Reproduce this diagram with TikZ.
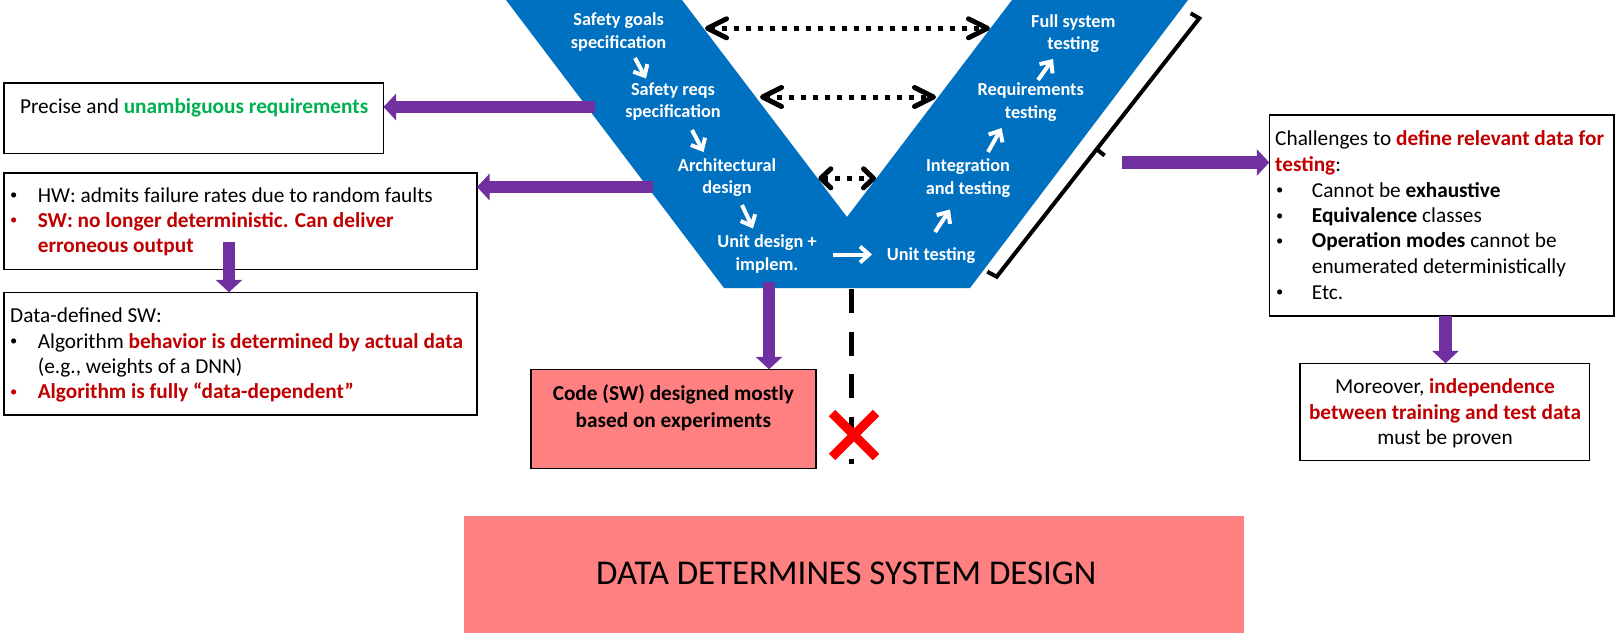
\documentclass[tikz,border=0pt]{standalone}
\usepackage{fontspec}
\setmainfont{Carlito}
\usetikzlibrary{arrows.meta,calc}
\definecolor{vblue}{HTML}{0070C0}
\definecolor{ppurple}{HTML}{7030A0}
\definecolor{okgreen}{HTML}{00B050}
\definecolor{dred}{HTML}{C00000}
\definecolor{pinkfill}{HTML}{FF8080}
\definecolor{xred}{HTML}{FF0000}
\newcommand{\bodyfont}{\fontsize{21.3}{25.6}\selectfont}
\newcommand{\vfont}{\fontsize{18.3}{22.7}\selectfont\bfseries}
\newcommand{\rb}[1]{\textcolor{dred}{\textbf{#1}}}
\newcommand{\bul}{\raisebox{2.6pt}{\fontsize{14.5}{14.5}\selectfont\mdseries •}}
\begin{document}
\begin{tikzpicture}[x=1pt,y=-1pt,
  box/.style={draw=black, line width=1.6pt, inner sep=0pt, outer sep=0pt, anchor=north west},
  ln/.style={anchor=base west, inner sep=0pt, font=\bodyfont},
  lnc/.style={anchor=base, inner sep=0pt, font=\bodyfont},
  vtxt/.style={text=white, font=\vfont, align=center, inner sep=0pt},
  parrow/.style={draw=ppurple, fill=ppurple, line width=12.5pt, -{Triangle[length=12.5pt,width=26pt]}},
  warrow/.style={draw=white, line width=4pt, -{Straight Barb[length=9pt,width=16pt]}},
  dotarrow/.style={line width=5pt, dash pattern=on 5pt off 7pt,
     {Straight Barb[length=19pt,width=19pt,round]}-{Straight Barb[length=19pt,width=19pt,round]}},
  dotarrowshort/.style={line width=5pt, dash pattern=on 5pt off 7pt,
     {Straight Barb[length=10pt,width=19pt,round]}-{Straight Barb[length=10pt,width=19pt,round]}}
]
\useasboundingbox (0,0) rectangle (1619,633);

% V shape
\fill[vblue] (506,0) -- (682,0) -- (847,217) -- (1012,0) -- (1188,0) -- (970,288) -- (724,288) -- cycle;

% boxes
\node[box, minimum width=379.5pt, minimum height=70.6pt] (box1) at (4,82.7) {};
\node[box, minimum width=473pt, minimum height=96.6pt] (box2) at (4,172.7) {};
\node[box, minimum width=473pt, minimum height=122.7pt] (box3) at (4,292.3) {};
\node[box, fill=pinkfill, minimum width=284.7pt, minimum height=99pt] (code) at (531,369.3) {};
\node[box, draw=none, fill=pinkfill, minimum width=780.4pt, minimum height=117pt] (bottom) at (463.6,516) {};
\node[box, minimum width=344.7pt, minimum height=201pt] (r1) at (1269.3,115) {};
\node[box, minimum width=289.3pt, minimum height=97.2pt] (r2) at (1300,363.3) {};

% box texts
\node[ln] (t1) at (19.8,113) {Precise and \textcolor{okgreen}{\textbf{unambiguous requirements}}};

\node[ln] (t2a) at (10,202) {\makebox[27.6pt][l]{\bul}HW: admits failure rates due to random faults};
\node[ln, text=dred, font=\bodyfont\bfseries] (t2b) at (10,227) {\makebox[27.6pt][l]{\bul}SW: no longer deterministic. Can deliver};
\node[ln, text=dred, font=\bodyfont\bfseries] (t2c) at (37.6,252.7) {erroneous output};

\node[ln] (t3a) at (10,322) {Data-defined SW:};
\node[ln] (t3b) at (10,348) {\makebox[27.6pt][l]{\bul}Algorithm \rb{behavior is determined by actual data}};
\node[ln] (t3c) at (37.6,373.7) {(e.g., weights of a DNN)};
\node[ln, text=dred, font=\bodyfont\bfseries] (t3d) at (10,398.7) {\makebox[27.6pt][l]{\bul}Algorithm is fully “data-dependent”};

\node[ln] (r1a) at (1275,145.3) {Challenges to \rb{define relevant data for}};
\node[ln] (r1b) at (1275,171) {\rb{testing}:};
\node[ln] (r1c) at (1276,197) {\makebox[35.7pt][l]{\bul}Cannot be \textbf{exhaustive}};
\node[ln] (r1d) at (1276,222.7) {\makebox[35.7pt][l]{\bul}\textbf{Equivalence} classes};
\node[ln] (r1e) at (1276,247.7) {\makebox[35.7pt][l]{\bul}\textbf{Operation modes} cannot be};
\node[ln] (r1f) at (1311.7,273.7) {enumerated deterministically};
\node[ln] (r1g) at (1276,299.3) {\makebox[35.7pt][l]{\bul}Etc.};

\node[lnc] (r2a) at (1445,393.7) {Moreover, \rb{independence}};
\node[lnc] (r2b) at (1445,419.3) {\rb{between training and test data}};
\node[lnc] (r2c) at (1445,444.7) {must be proven};

\node[lnc, font=\bodyfont\bfseries] (ca) at (673.3,400.3) {Code (SW) designed mostly};
\node[lnc, font=\bodyfont\bfseries] (cb) at (673.3,427) {based on experiments};

\node[anchor=base west, inner sep=0pt, font=\fontsize{34.8}{40}\selectfont] (bt) at (596,584.3) {DATA DETERMINES SYSTEM DESIGN};

% V texts
\node[vtxt] (s1) at (618.6,32) {Safety goals\\specification};
\node[vtxt] (s2) at (673,101.7) {Safety reqs\\specification};
\node[vtxt] (s3) at (727,177.5) {Architectural\\design};
\node[vtxt] (s4) at (767,253.8) {Unit design +\\implem.};
\node[vtxt] (s5) at (931,256) {Unit testing};
\node[vtxt] (s6) at (968,178) {Integration\\and testing};
\node[vtxt] (s7) at (1030.7,102) {Requirements\\testing};
\node[vtxt] (s8) at (1073.3,33.5) {Full system\\testing};

% white arrows
\coordinate (w1a) at (635,58);   \coordinate (w1b) at (646,78.5);
\coordinate (w2a) at (692,130);  \coordinate (w2b) at (703.5,152);
\coordinate (w3a) at (742,205);  \coordinate (w3b) at (753,228.5);
\coordinate (w4a) at (833,254.5);  \coordinate (w4b) at (872,254.5);
\coordinate (w5a) at (935,232);  \coordinate (w5b) at (950,209.5);
\coordinate (w6a) at (988,152);  \coordinate (w6b) at (1001.5,128);
\coordinate (w7a) at (1038,80);  \coordinate (w7b) at (1053,59);
\foreach \i in {1,...,7} { \draw[warrow] (w\i a) -- (w\i b); }

% dotted double arrows
\coordinate (d1l) at (705,28.3);  \coordinate (d1r) at (990,28.3);
\coordinate (d2l) at (760,97);    \coordinate (d2r) at (936,97);
\coordinate (d3l) at (818.3,178.3); \coordinate (d3r) at (876,178.3);
\draw[dotarrow] (d1l) -- (d1r);
\draw[dotarrow] (d2l) -- (d2r);
\draw[dotarrowshort] (d3l) -- (d3r);

% bracket
\coordinate (bt1) at (1190.7,13.3);
\coordinate (bt2) at (1199.3,18.3);
\coordinate (bt3) at (996.7,276.7);
\coordinate (bt4) at (987.3,271.7);
\coordinate (bm1) at (1096.7,149.3);
\coordinate (bm2) at (1104.6,155.5);
\draw[line width=4pt] (bt1) -- (bt2) -- (bt3) -- (bt4);
\draw[line width=4pt] (bm1) -- (bm2);

% purple arrows
\coordinate (v1) at (595,107);
\coordinate (v2) at (653,187);
\coordinate (b2d) at (229,242);
\coordinate (vb) at (769,282);
\coordinate (br) at (1122,162.5);
\coordinate (r1s) at (1445.5,316);
\draw[parrow] (v1) -- (v1 -| box1.east);
\draw[parrow] (v2) -- (v2 -| box2.east);
\draw[parrow] (b2d) -- (b2d |- box3.north);
\draw[parrow] (vb) -- (vb |- code.north);
\draw[parrow] (br) -- (br -| r1.west);
\draw[parrow] (r1s) -- (r1s |- r2.north);

% dashed line and red cross
\coordinate (dl1) at (851.7,289);
\coordinate (dl2) at (851.7,464);
\draw[line width=5pt, dash pattern=on 24pt off 18.5pt] (dl1) -- (dl2);
\coordinate (xc) at (854,435);
\draw[xred, line width=9pt] ($(xc)+(-22,-22)$) -- ($(xc)+(22,22)$);
\draw[xred, line width=9pt] ($(xc)+(-22,22)$) -- ($(xc)+(22,-22)$);
\end{tikzpicture}
\end{document}
